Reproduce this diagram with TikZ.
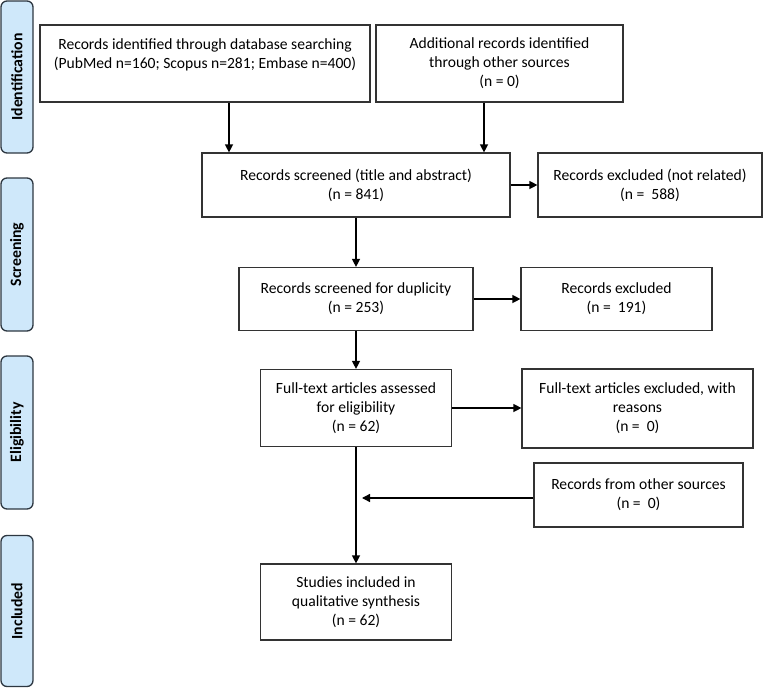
\documentclass[tikz,border=0pt]{standalone}
\usepackage{fontspec}
\setmainfont{Carlito}
\usetikzlibrary{arrows.meta}
\definecolor{sidefill}{RGB}{207,232,250}
\definecolor{sidedraw}{RGB}{45,55,65}
\begin{document}
\begin{tikzpicture}[x=1pt,y=-1pt,
  box/.style={draw=black!80, line width=1.2pt, align=center, inner sep=0pt,
    font=\fontsize{15.6}{19}\selectfont},
  side/.style={draw=sidedraw, fill=sidefill, line width=1.3pt, rounded corners=6pt,
    minimum width=32pt, inner sep=0pt},
  sidetext/.style={rotate=90, font=\bfseries\fontsize{15.8}{18}\selectfont},
  arr/.style={-{Triangle[length=8pt,width=8pt]}, line width=1.3pt}]
\useasboundingbox (0,0) rectangle (763,688);
% side bars
\node[side, minimum height=152pt] (s1) at (17,77) {};
\node[sidetext] at (s1.center) {Identification};
\node[side, minimum height=153pt] (s2) at (17,254.5) {};
\node[sidetext] at (s2.center) {Screening};
\node[side, minimum height=153pt] (s3) at (17,432.5) {};
\node[sidetext] at (s3.center) {Eligibility};
\node[side, minimum height=151pt] (s4) at (17,611) {};
\node[sidetext] at (s4.center) {Included};
% boxes
\node[box, minimum width=330pt, minimum height=77pt] (b1) at (205,63.5)
  {Records identified through database searching\\(PubMed n=160; Scopus n=281; Embase n=400)\\\mbox{}};
\node[box, minimum width=247pt, minimum height=77pt] (b2) at (499.5,63.5)
  {Additional records identified\\through other sources\\(n = 0)};
\node[box, minimum width=308pt, minimum height=64pt] (b3) at (356,185)
  {Records screened (title and abstract)\\(n = 841)};
\node[box, minimum width=224pt, minimum height=64pt] (e1) at (650,185)
  {Records excluded (not related)\\(n =\ \ 588)};
\node[box, minimum width=234pt, minimum height=63pt] (b4) at (356,299)
  {Records screened for duplicity\\(n = 253)};
\node[box, minimum width=191pt, minimum height=63pt] (e2) at (616.5,299)
  {Records excluded\\(n =\ \ 191)};
\node[box, minimum width=191pt, minimum height=77pt] (b5) at (356,408)
  {Full-text articles assessed\\for eligibility\\(n = 62)};
\node[box, minimum width=231pt, minimum height=79pt] (e3) at (637.5,408.5)
  {Full-text articles excluded, with\\reasons\\(n =\ \ 0)};
\node[box, minimum width=209pt, minimum height=64pt] (o1) at (638.5,495)
  {Records from other sources\\(n =\ \ 0)};
\node[box, minimum width=191pt, minimum height=76pt] (b6) at (356,602)
  {Studies included in\\qualitative synthesis\\(n = 62)};
% connectors
\coordinate (x1) at (229,0);
\coordinate (x2) at (484,0);
\coordinate (m) at (362,498);
\draw[arr] (b1.south -| x1) -- (x1 |- b3.north);
\draw[arr] (b2.south -| x2) -- (x2 |- b3.north);
\draw[arr] (b3.east) -- (e1.west);
\draw[arr] (b3.south) -- (b4.north);
\draw[arr] (b4.east) -- (e2.west);
\draw[arr] (b4.south) -- (b5.north);
\draw[arr] (b5.east) -- (b5.east -| e3.west);
\draw[arr] (b5.south) -- (b6.north);
\draw[arr] (o1.west |- m) -- (m);
\end{tikzpicture}
\end{document}
